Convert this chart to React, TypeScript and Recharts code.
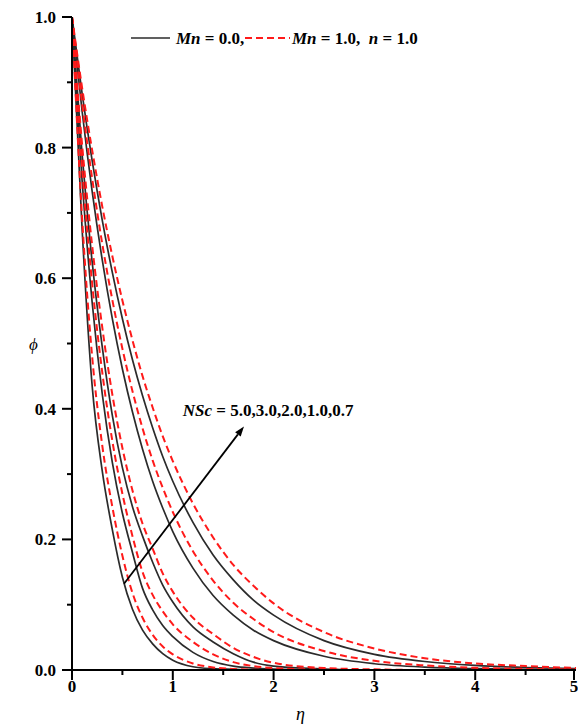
import React from "react";
import { LineChart, Line, XAxis, YAxis, ReferenceLine, ReferenceDot } from "recharts";

// η grid shared by every profile
const eta = [0, 0.1, 0.2, 0.3, 0.4, 0.5, 0.6, 0.7, 0.8, 0.9, 1.0, 1.2, 1.4, 1.6, 1.8, 2.0, 2.5, 3.0, 3.5, 4.0, 4.5, 5.0];

// Mn = 0.0 (solid)
const sc50Mn0 = [1, 0.676, 0.435, 0.305, 0.215, 0.142, 0.093, 0.061, 0.04, 0.025, 0.015, 0.005, 0.002, 0.001, 0, 0, 0, 0, 0, 0, 0, 0];
const sc30Mn0 = [1, 0.75, 0.563, 0.423, 0.318, 0.24, 0.18, 0.125, 0.092, 0.068, 0.051, 0.027, 0.013, 0.006, 0.003, 0.0015, 0, 0, 0, 0, 0, 0];
const sc20Mn0 = [1, 0.79, 0.625, 0.495, 0.39, 0.31, 0.25, 0.205, 0.165, 0.13, 0.104, 0.066, 0.043, 0.025, 0.012, 0.006, 0.0015, 0, 0, 0, 0, 0];
const sc10Mn0 = [1, 0.856, 0.733, 0.628, 0.538, 0.461, 0.395, 0.338, 0.289, 0.248, 0.212, 0.156, 0.114, 0.084, 0.061, 0.045, 0.021, 0.0096, 0.0044, 0.002, 0.001, 0.0005];
const sc07Mn0 = [1, 0.883, 0.78, 0.689, 0.609, 0.538, 0.475, 0.42, 0.371, 0.327, 0.289, 0.226, 0.176, 0.138, 0.107, 0.084, 0.045, 0.024, 0.013, 0.007, 0.0038, 0.002];

// Mn = 1.0 (dashed)
const sc50Mn1 = [1, 0.693, 0.48, 0.344, 0.25, 0.175, 0.118, 0.08, 0.054, 0.036, 0.024, 0.01, 0.004, 0.0015, 0.0005, 0, 0, 0, 0, 0, 0, 0];
const sc30Mn1 = [1, 0.77, 0.592, 0.456, 0.351, 0.27, 0.205, 0.15, 0.115, 0.09, 0.07, 0.043, 0.024, 0.012, 0.006, 0.003, 0.0005, 0, 0, 0, 0, 0];
const sc20Mn1 = [1, 0.805, 0.65, 0.525, 0.422, 0.34, 0.275, 0.224, 0.186, 0.148, 0.12, 0.08, 0.055, 0.034, 0.02, 0.011, 0.003, 0.001, 0, 0, 0, 0];
const sc10Mn1 = [1, 0.868, 0.753, 0.653, 0.567, 0.492, 0.427, 0.37, 0.321, 0.279, 0.242, 0.182, 0.137, 0.103, 0.078, 0.058, 0.029, 0.014, 0.007, 0.0034, 0.0017, 0.0008];
const sc07Mn1 = [1, 0.892, 0.796, 0.71, 0.634, 0.566, 0.505, 0.45, 0.402, 0.358, 0.32, 0.255, 0.203, 0.161, 0.129, 0.102, 0.058, 0.033, 0.018, 0.01, 0.006, 0.003];

const xTicks = [0, 0.5, 1, 1.5, 2, 2.5, 3, 3.5, 4, 4.5, 5];
const yTicks = [0, 0.1, 0.2, 0.3, 0.4, 0.5, 0.6, 0.7, 0.8, 0.9, 1.0];

const solidKeys = ["s50", "s30", "s20", "s10", "s07"];
const dashKeys = ["d50", "d30", "d20", "d10", "d07"];

const data = eta.map((e, i) => ({
  eta: e,
  s50: sc50Mn0[i],
  s30: sc30Mn0[i],
  s20: sc20Mn0[i],
  s10: sc10Mn0[i],
  s07: sc07Mn0[i],
  d50: sc50Mn1[i],
  d30: sc30Mn1[i],
  d20: sc20Mn1[i],
  d10: sc10Mn1[i],
  d07: sc07Mn1[i],
}));

const font = "'Liberation Serif', 'Times New Roman', serif";

const YTick = (props: any) => {
  const { x, y, payload } = props;
  const v = payload.value;
  const major = Math.round(v * 10) % 2 === 0;
  return (
    <g>
      <line x1={x - (major ? 10 : 5)} x2={x} y1={y} y2={y} stroke="#000" strokeWidth={2} />
      {major && (
        <text x={x - 16} y={y + 6} textAnchor="end" fontFamily={font} fontWeight="bold" fontSize={17} fill="#000">
          {v.toFixed(1)}
        </text>
      )}
    </g>
  );
};

const XTick = (props: any) => {
  const { x, y, payload } = props;
  const v = payload.value;
  const major = Number.isInteger(v);
  return (
    <g>
      <line x1={x} x2={x} y1={y} y2={y + (major ? 10 : 5)} stroke="#000" strokeWidth={2} />
      {major && (
        <text x={x} y={y + 22} textAnchor="middle" fontFamily={font} fontWeight="bold" fontSize={17} fill="#000">
          {v}
        </text>
      )}
    </g>
  );
};

const TopTick = (props: any) => {
  const { x, y } = props;
  return <line x1={x} x2={x} y1={y} y2={y + 4} stroke="#000" strokeWidth={1.5} />;
};

const RightTick = (props: any) => {
  const { x, y } = props;
  return <line x1={x - 4} x2={x} y1={y} y2={y} stroke="#000" strokeWidth={1.5} />;
};

const Arrow = (props: any) => {
  const { x1, y1, x2, y2 } = props;
  const a = Math.atan2(y2 - y1, x2 - x1);
  const L = 10;
  const W = 3.5;
  const bx = x2 - L * Math.cos(a);
  const by = y2 - L * Math.sin(a);
  const px = -Math.sin(a) * W;
  const py = Math.cos(a) * W;
  return (
    <g>
      <line x1={x1} y1={y1} x2={bx} y2={by} stroke="#000" strokeWidth={1.8} />
      <polygon points={`${x2},${y2} ${bx + px},${by + py} ${bx - px},${by - py}`} fill="#000" />
    </g>
  );
};

const NscLabel = (props: any) => {
  const { cx, cy } = props;
  return (
    <text x={cx} y={cy} fontFamily={font} fontWeight="bold" fontSize={17} fill="#000" style={{ whiteSpace: "pre" }}>
      <tspan fontStyle="italic">NSc</tspan> = 5.0,3.0,2.0,1.0,0.7
    </text>
  );
};

export default function App() {
  return (
    <div style={{ position: "absolute", left: 0, top: 0, width: 578, height: 728, background: "#fff" }}>
      <LineChart width={578} height={728} data={data} margin={{ top: 17, right: 2, bottom: 0, left: 0 }}>
        <XAxis
          dataKey="eta"
          type="number"
          domain={[0, 5]}
          ticks={xTicks}
          height={58}
          tickSize={0}
          tickMargin={0}
          tickLine={false}
          tick={<XTick />}
          axisLine={{ stroke: "#000", strokeWidth: 2 }}
          allowDataOverflow
        />
        <XAxis
          xAxisId="top"
          orientation="top"
          dataKey="eta"
          type="number"
          domain={[0, 5]}
          ticks={xTicks}
          height={0}
          tickSize={0}
          tickMargin={0}
          tickLine={false}
          tick={<TopTick />}
          axisLine={{ stroke: "#000", strokeWidth: 2 }}
        />
        <YAxis
          type="number"
          domain={[0, 1]}
          ticks={yTicks}
          width={72}
          tickSize={0}
          tickMargin={0}
          tickLine={false}
          tick={<YTick />}
          axisLine={{ stroke: "#000", strokeWidth: 2 }}
          allowDataOverflow
        />
        <YAxis
          yAxisId="right"
          orientation="right"
          type="number"
          domain={[0, 1]}
          ticks={yTicks}
          width={0}
          tickSize={0}
          tickMargin={0}
          tickLine={false}
          tick={<RightTick />}
          axisLine={{ stroke: "#000", strokeWidth: 2 }}
        />
        {solidKeys.map((k) => (
          <Line
            key={k}
            dataKey={k}
            type="monotone"
            stroke="#2b2b2b"
            strokeWidth={1.7}
            dot={false}
            isAnimationActive={false}
          />
        ))}
        {dashKeys.map((k) => (
          <Line
            key={k}
            dataKey={k}
            type="monotone"
            stroke="#ff1a1a"
            strokeWidth={2}
            strokeDasharray="7 4"
            dot={false}
            isAnimationActive={false}
          />
        ))}
        <ReferenceLine
          segment={[
            { x: 0.516, y: 0.132 },
            { x: 1.706, y: 0.373 },
          ]}
          shape={<Arrow />}
        />
        <ReferenceDot x={1.098} y={0.389} r={0} shape={<NscLabel />} />
      </LineChart>
      <svg width={578} height={728} style={{ position: "absolute", left: 0, top: 0, pointerEvents: "none" }}>
        <line x1={131} x2={170} y1={38} y2={38} stroke="#2b2b2b" strokeWidth={1.6} />
        <text x={176} y={44} fontFamily={font} fontWeight="bold" fontSize={17} fill="#000" style={{ whiteSpace: "pre" }}>
          <tspan fontStyle="italic">Mn</tspan> = 0.0,
        </text>
        <line x1={245} x2={290} y1={38} y2={38} stroke="#ff1a1a" strokeWidth={2} strokeDasharray="7 4" />
        <text x={292} y={44} fontFamily={font} fontWeight="bold" fontSize={17} fill="#000" style={{ whiteSpace: "pre" }}>
          <tspan fontStyle="italic">Mn</tspan> = 1.0,  <tspan fontStyle="italic">n</tspan> = 1.0
        </text>
        <text x={29} y={350} fontFamily={font} fontStyle="italic" fontSize={17} fill="#000">
          ϕ
        </text>
        <text x={296} y={720} fontFamily={font} fontStyle="italic" fontSize={18} fill="#000">
          η
        </text>
      </svg>
    </div>
  );
}
